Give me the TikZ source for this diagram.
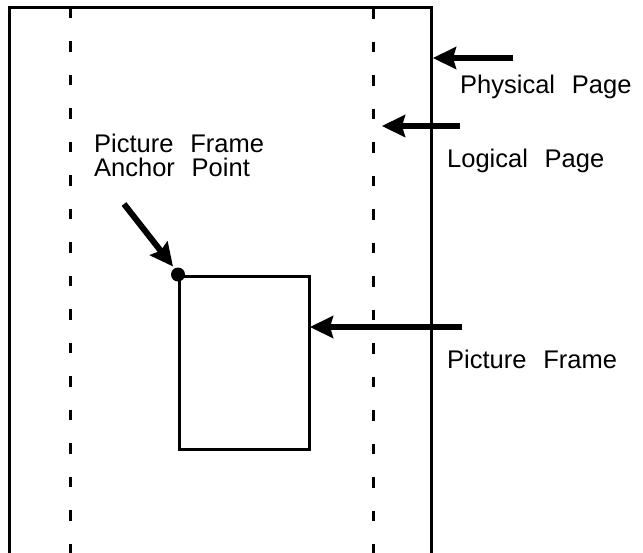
\documentclass[tikz,border=0pt]{standalone}
\usepackage{fontspec}
\setmainfont{Liberation Sans}
\usetikzlibrary{arrows.meta,calc}
\begin{document}
\begin{tikzpicture}[x=1pt,y=-1pt,
  frameline/.style={line width=3pt},
  dashline/.style={line width=3pt, dash pattern=on 10.5pt off 23pt},
  bigarrow/.style={line width=6pt, -{Stealth[length=23pt,width=22pt,inset=3pt]}},
  lbl/.style={font=\fontsize{25.5}{24}\selectfont, inner sep=0pt, anchor=base west, align=left}]
\useasboundingbox (0,0) rectangle (643,552);
% physical page
\draw[frameline] (9,560) -- (9,7) -- (431,7) -- (431,560);
% logical page
\draw[dashline] (70,7.5) -- (70,560);
\draw[dashline] (373,8) -- (373,560);
% picture frame
\node[draw, line width=3pt, minimum width=130pt, minimum height=173pt, inner sep=0pt, anchor=north west] (pf) at (178,274.5) {};
\fill (pf.north west) circle (7pt);
\coordinate (anchorpt) at (pf.north west);
% labels
\node[lbl] (phys) at (460,93) {Physical\hspace{0.38em} Page};
\node[lbl] (log) at (447,167) {Logical\hspace{0.38em} Page};
\node[lbl] (pfl) at (447,368) {Picture\hspace{0.38em} Frame};
\node[lbl] (anc) at (94,176) {Picture\hspace{0.38em} Frame\\Anchor\hspace{0.38em} Point};
% arrows
\coordinate (a1s) at (513,58); \coordinate (a1e) at (433,58);
\coordinate (a2s) at (460,126); \coordinate (a2e) at (382,126);
\coordinate (a3s) at (462,327); \coordinate (a3e) at (310,327);
\coordinate (a4s) at (124,204);
\draw[bigarrow] (a1s) -- (a1e);
\draw[bigarrow] (a2s) -- (a2e);
\draw[bigarrow] (a3s) -- (a3e);
\draw[bigarrow] (a4s) -- ($(anchorpt)+(-5,-8)$);
\end{tikzpicture}
\end{document}
